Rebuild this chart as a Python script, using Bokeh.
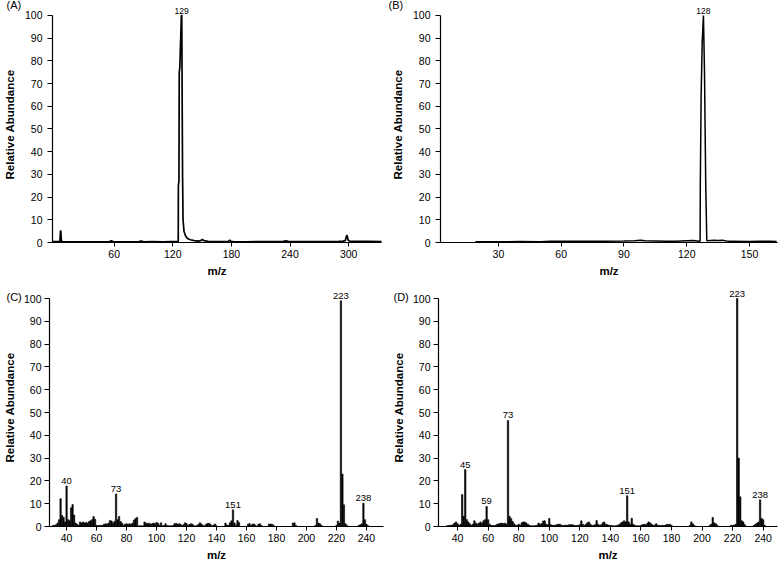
from bokeh.plotting import figure
from bokeh.models import ColumnDataSource, LabelSet, FixedTicker, Range1d
from bokeh.layouts import column, row
from bokeh.core.properties import value
from bokeh.embed import file_html
from bokeh.resources import INLINE

FONT = "Liberation Sans"

# ---------------- data ----------------
# (A) profile spectrum
a_mz = [-3, 2, 4.5, 5.1, 5.4, 6, 7, 9, 20, 35, 50, 55, 57.3, 59, 70, 85, 88, 90, 100, 110,
        118, 122, 125, 125.6, 125.7, 126.3, 126.6, 127.2, 128.8, 129.2, 129.6, 130, 130.5, 131.5,
        133, 135, 138, 142, 146, 148.5, 150.3, 152, 156, 165, 175, 177, 178.3, 179.5, 182, 195,
        210, 225, 233, 235.8, 238, 250, 265, 280, 290, 294, 296.5, 298, 298.8, 299.5, 301, 310,
        320, 334]
a_int = [0.4, 0.4, 0.5, 5.3, 5.0, 0.6, 0.4, 0.3, 0.3, 0.3, 0.3, 0.4, 0.7, 0.4, 0.3, 0.4, 0.6, 0.3, 0.4, 0.3,
         0.4, 0.4, 0.4, 0.5, 25, 27, 75, 77, 100, 100, 63, 30, 10, 5,
         3, 1.8, 1.2, 0.8, 0.6, 0.8, 1.3, 0.8, 0.5, 0.4, 0.4, 0.5, 1.0, 0.5, 0.4, 0.3,
         0.4, 0.4, 0.5, 0.7, 0.5, 0.4, 0.4, 0.4, 0.5, 0.6, 0.8, 3.2, 2.5, 1.0, 0.6, 0.5,
         0.5, 0.4]
a_ticks = [60, 120, 180, 240, 300]
a_lab_mz = [129]
a_lab_y = [100]
a_lab_txt = ["129"]

# (B) profile spectrum
b_mz = [19, 30, 40, 50, 55, 60, 70, 80, 90, 95, 98, 100, 105, 110, 115, 120, 123, 125, 126,
        126.4, 126.5, 126.9, 127.4, 128, 128.5, 129.1, 129.6, 130, 133, 135, 137, 140, 150,
        155, 160, 163]
b_int = [0.3, 0.3, 0.4, 0.3, 0.5, 0.6, 0.5, 0.6, 0.7, 0.8, 1.0, 0.8, 0.7, 0.6, 0.5, 0.8, 0.9, 0.7, 0.6,
         0.5, 25, 65, 88, 100, 75, 25, 0.8, 0.8, 1.0, 0.9, 1.0, 0.5, 0.4,
         0.5, 0.6, 0.4]
b_ticks = [30, 60, 90, 120, 150]
b_lab_mz = [128]
b_lab_y = [100]
b_lab_txt = ["128"]

# (C) stick spectrum
c_mz = [31, 32, 33, 34, 35, 36, 37, 38, 39, 40,
        41, 42, 43, 44, 45, 46, 47, 48, 49, 50,
        51, 52, 53, 54, 55, 56, 57, 58, 59, 60,
        61, 62, 63, 64, 65, 66, 67, 68, 69, 70,
        71, 72, 73, 74, 75, 76, 77, 78, 79, 80,
        81, 82, 83, 84, 85, 86, 87, 88, 89, 90,
        91, 92, 93, 94, 95, 96, 97, 98, 99, 100,
        101, 102, 103, 104, 105, 106, 107, 108, 109, 110,
        111, 112, 113, 114, 115, 116, 117, 118, 119, 120,
        121, 122, 123, 124, 125, 126, 127, 128, 129, 130,
        131, 132, 133, 134, 135, 136, 137, 138, 139, 140,
        146, 147, 148, 149, 150, 151, 152, 153, 154, 155,
        161, 162, 163, 164, 165, 166, 168, 169, 170,
        175, 176, 177, 178,
        191, 192, 193,
        206, 207, 208, 209, 210,
        220, 221, 222, 223, 224, 225, 226, 227,
        235, 236, 237, 238, 239, 240, 241]
c_int = [0.5, 0.5, 0.8, 1.5, 3.0, 12.2, 4.8, 4.0, 2.0, 17.8,
         3.0, 2.5, 8.2, 9.6, 5.0, 1.5, 1.0, 0.6, 2.0, 1.5,
         2.0, 1.5, 1.8, 1.5, 2.2, 2.5, 3.0, 4.4, 3.2, 0.5,
         0.4, 0.4, 0.5, 0.5, 1.0, 1.2, 1.0, 1.5, 2.6, 2.4,
         1.5, 2.2, 14.3, 3.0, 4.4, 2.2, 1.5, 0.6, 1.0, 1.2,
         1.0, 1.2, 1.0, 1.5, 2.8, 3.5, 4.0, 0.3, 0.3, 0.3,
         0.3, 2.0, 1.5, 1.2, 1.5, 1.0, 1.2, 1.5, 1.2, 1.8,
         1.5, 0.5, 1.6, 0.3, 0.4, 1.2, 0.4, 0.3, 0.3, 0.3,
         0.4, 1.2, 1.4, 1.0, 1.2, 1.0, 0.4, 0.8, 1.6, 1.3,
         0.5, 0.9, 1.2, 1.0, 0.3, 0.3, 0.4, 1.0, 1.6, 1.1,
         0.4, 0.3, 1.0, 1.3, 1.4, 1.0, 0.3, 0.6, 1.1, 0.3,
         1.5, 0.6, 0.5, 1.6, 2.5, 7.3, 1.5, 0.5, 2.6, 1.8,
         1.0, 1.3, 0.6, 1.0, 1.1, 0.6, 1.0, 1.2, 0.4,
         1.0, 1.1, 1.0, 0.6,
         1.5, 1.6, 0.5,
         0.5, 3.5, 1.5, 1.2, 0.5,
         0.5, 2.4, 1.5, 99.0, 23.0, 9.5, 1.2, 0.6,
         0.5, 0.8, 1.2, 10.2, 3.0, 1.0, 0.4]
c_lab_mz = [40, 73, 151, 223, 238]
c_lab_y = [17.8, 14.3, 7.3, 99.0, 10.2]
c_lab_txt = ["40", "73", "151", "223", "238"]

# (D) stick spectrum
d_mz = [33, 34, 35, 36, 37, 38, 39, 40, 41, 42,
        43, 44, 45, 46, 47, 48, 49, 50, 51, 52,
        53, 54, 55, 56, 57, 58, 59, 60, 61, 62,
        63, 64, 65, 66, 67, 68, 69, 70, 71, 72,
        73, 74, 75, 76, 77, 78, 79, 80, 81, 82,
        83, 84, 85, 86, 87, 88, 89, 90, 91, 92,
        93, 94, 95, 96, 97, 98, 99, 100, 101, 102,
        103, 104, 105, 106, 107, 108, 109, 110, 111, 112,
        113, 114, 115, 116, 117, 118, 119, 120, 121, 122,
        123, 124, 125, 126, 127, 128, 129, 130, 131, 132,
        133, 134, 135, 136, 137, 138, 139, 140, 141, 142,
        143, 144, 145, 146, 147, 148, 149, 150, 151, 152,
        153, 154, 155, 156, 157, 158, 159, 160, 161, 162,
        163, 164, 165, 166, 167, 168, 169, 170, 171, 172,
        173, 174, 175, 176, 177, 178, 179, 180,
        192, 193, 194, 195,
        205, 206, 207, 208, 209, 210,
        219, 220, 221, 222, 223, 224, 225, 226, 227, 228,
        234, 235, 236, 237, 238, 239, 240, 241]
d_int = [0.3, 0.4, 0.5, 0.5, 0.8, 1.5, 2.0, 1.2, 0.6, 1.0,
         14.0, 4.5, 25.0, 3.0, 2.0, 1.2, 0.6, 1.0, 2.5, 1.5,
         1.0, 1.5, 2.0, 1.5, 2.5, 3.0, 8.8, 3.0, 1.0, 0.5,
         0.4, 0.4, 0.6, 1.0, 1.2, 1.3, 1.5, 1.2, 1.5, 1.0,
         46.5, 4.5, 3.5, 2.2, 1.2, 0.6, 0.5, 1.0, 0.6, 1.6,
         2.0, 2.0, 1.5, 1.0, 0.5, 0.3, 0.3, 0.3, 0.4, 0.5,
         1.5, 1.0, 1.2, 2.4, 2.5, 1.0, 0.8, 3.5, 0.8, 0.5,
         0.5, 0.6, 0.8, 1.0, 1.0, 0.6, 0.4, 0.5, 0.6, 0.5,
         0.8, 0.8, 0.8, 0.6, 0.4, 0.4, 0.5, 0.8, 2.5, 1.0,
         0.5, 1.0, 1.6, 2.0, 1.0, 0.5, 0.5, 0.8, 2.6, 1.0,
         0.5, 0.8, 1.6, 2.0, 1.0, 0.8, 0.6, 0.5, 0.4, 0.3,
         0.3, 0.4, 0.6, 1.0, 1.6, 2.0, 2.5, 2.0, 13.5, 2.0,
         1.0, 3.6, 1.0, 0.5, 0.3, 0.3, 0.3, 0.5, 0.8, 1.0,
         0.8, 1.2, 2.0, 1.6, 1.0, 0.6, 0.6, 1.2, 0.6, 0.4,
         0.4, 0.5, 0.4, 0.6, 1.0, 0.8, 1.0, 0.5,
         0.5, 2.0, 1.2, 0.5,
         0.5, 1.0, 4.0, 1.6, 1.2, 0.6,
         0.5, 0.5, 0.6, 1.0, 100.0, 30.0, 13.0, 2.5, 2.0, 0.8,
         0.5, 1.0, 1.5, 2.0, 11.7, 3.5, 3.0, 0.6]
d_lab_mz = [45, 59, 73, 151, 223, 238]
d_lab_y = [25.0, 8.8, 46.5, 13.5, 100.0, 11.7]
d_lab_txt = ["45", "59", "73", "151", "223", "238"]

cd_ticks = [40, 60, 80, 100, 120, 140, 160, 180, 200, 220, 240]
y_ticks = [0, 10, 20, 30, 40, 50, 60, 70, 80, 90, 100]


def make_fig(w, h, bl, br, bt, bb, xr, ytop, xticks, tag, tag_dx, tag_standoff, lab_standoff, title_standoff):
    p = figure(width=w, height=h, output_backend="svg", toolbar_location=None,
               x_range=Range1d(*xr), y_range=Range1d(0, ytop), title=tag,
               min_border_left=bl, min_border_right=br, min_border_top=bt, min_border_bottom=bb)
    p.title.align = "left"
    p.title.offset = tag_dx
    p.title.standoff = tag_standoff
    p.title.text_font = FONT
    p.title.text_font_size = "11px"
    p.title.text_font_style = "normal"
    p.title.text_color = "black"
    p.outline_line_color = None
    p.xgrid.visible = False
    p.ygrid.visible = False
    p.background_fill_color = "white"
    p.border_fill_color = "white"
    p.xaxis.ticker = FixedTicker(ticks=xticks)
    p.yaxis.ticker = FixedTicker(ticks=y_ticks)
    p.yaxis.bounds = (0, 100)
    for ax in (p.xaxis[0], p.yaxis[0]):
        ax.axis_line_color = "black"
        ax.axis_line_width = 1.2
        ax.major_tick_line_color = "black"
        ax.major_tick_line_width = 1.0
        ax.major_tick_in = 0
        ax.minor_tick_line_color = None
        ax.major_label_text_font = FONT
        ax.major_label_text_font_size = "10.5px"
        ax.major_label_text_color = "black"
        ax.axis_label_text_font = FONT
        ax.axis_label_text_font_size = "11.5px"
        ax.axis_label_text_font_style = "bold"
        ax.axis_label_text_color = "black"
    p.xaxis.major_tick_out = 4
    p.yaxis.major_tick_out = 5
    p.xaxis.major_label_standoff = 3
    p.yaxis.major_label_standoff = lab_standoff
    p.xaxis.axis_label_standoff = 4
    p.yaxis.axis_label_standoff = title_standoff
    p.xaxis.axis_label = "m/z"
    p.yaxis.axis_label = "Relative Abundance"
    return p


def add_labels(p, mz, y, txt, size, dy):
    src = ColumnDataSource(dict(x=mz, y=y, t=txt))
    p.add_layout(LabelSet(x="x", y="y", text="t", source=src, y_offset=dy,
                          text_align="center", text_baseline="bottom",
                          text_font=value(FONT), text_font_size=value(size),
                          text_color="black"))


# Row 1 (0..284): frame top at 5, 100 at 14, 0 at 242  -> top = 100 + 9/2.28
pA = make_fig(388, 284, 49, 7, 5, 42, (-3.1, 333.6), 103.95, a_ticks, "(A)", -46, -8, 5, 6)
pA.line(a_mz, a_int, line_color="black", line_width=1.7)
add_labels(pA, a_lab_mz, a_lab_y, a_lab_txt, "8.5px", 1)

pB = make_fig(392, 284, 52, 3, 5, 42, (2.3, 163.4), 103.95, b_ticks, "(B)", -52, -8, 5, 6)
pB.line(b_mz, b_int, line_color="black", line_width=1.5)
add_labels(pB, b_lab_mz, b_lab_y, b_lab_txt, "8.5px", 1)

# Row 2 (284..564): frame top at 288, 100 at 298, 0 at 526
pC = make_fig(388, 280, 46, 5, 4, 38, (28.6, 251.4), 104.4, cd_ticks, "(C)", -43, -28, 3, 5)
srcC = ColumnDataSource(dict(x=c_mz, top=c_int))
pC.vbar(x="x", top="top", bottom=0, width=0.9, source=srcC,
        fill_color="black", line_color="black", line_width=0.6)
add_labels(pC, c_lab_mz, c_lab_y, c_lab_txt, "9.5px", 2)

pD = make_fig(392, 280, 50, 3, 4, 38, (27.5, 249.4), 104.4, cd_ticks, "(D)", -45, -28, 3, 5)
srcD = ColumnDataSource(dict(x=d_mz, top=d_int))
pD.vbar(x="x", top="top", bottom=0, width=0.9, source=srcD,
        fill_color="black", line_color="black", line_width=0.6)
add_labels(pD, d_lab_mz, d_lab_y, d_lab_txt, "9.5px", 2)

layout = column(row(pA, pB), row(pC, pD))

with open("out.html", "w") as f:
    f.write(file_html(layout, INLINE))
